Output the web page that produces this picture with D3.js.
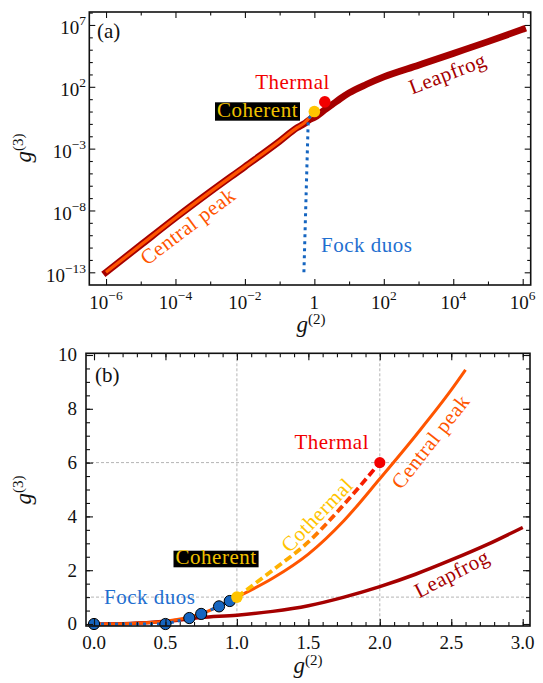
<!DOCTYPE html>
<html>
<head>
<meta charset="utf-8">
<script src="https://cdn.jsdelivr.net/npm/d3@7"></script>
<style>
  html, body { margin: 0; padding: 0; background: #fff; }
  #chart, #chart text, #chart tspan { font-family: "Liberation Serif", "DejaVu Serif", serif !important; }
</style>
</head>
<body>
<svg id="chart" width="543" height="683"></svg>
<script>
// ---- panel (a): log-log view ----
const leapLogG2 = [1e-6, 1e-5, 1e-4, 1e-3, 1e-2, 1e-1, 0.32, 0.5, 0.76, 1, 2, 3.2, 5.6, 10, 32, 100, 1e3, 1e4, 1e5, 1e6]
const leapLogG3 = [1e-13, 1.6e-11, 2.5e-9, 3.2e-7, 3.5e-5, 4e-3, 0.05, 0.1, 0.24, 0.33, 1.39, 3.5, 11, 32, 160, 630, 5.6e3, 5e4, 4.5e5, 4.5e6]
const centralLogG2 = [1e-6, 1e-5, 1e-4, 1e-3, 1e-2, 1e-1, 0.32, 0.5, 0.76, 1]
const centralLogG3 = [1e-13, 1.6e-11, 2.5e-9, 3.2e-7, 3.5e-5, 4e-3, 0.05, 0.11, 0.38, 1]
const fockFloor = 1e-13   // where zero g3 is drawn on the log axis

const aXTicks = [1e-6, 1e-4, 1e-2, 1, 1e2, 1e4, 1e6]
const aXTickLabels = ['10^−6', '10^−4', '10^−2', '1', '10^2', '10^4', '10^6']
const aXMinor = [1e-5, 1e-3, 1e-1, 1e1, 1e3, 1e5]
const aYTicks = [1e7, 1e2, 1e-3, 1e-8, 1e-13]
const aYTickLabels = ['10^7', '10^2', '10^−3', '10^−8', '10^−13']
const aYMinor = [1e8, 1e6, 1e5, 1e4, 1e3, 1e1, 1, 1e-1, 1e-2, 1e-4, 1e-5, 1e-6, 1e-7, 1e-9, 1e-10, 1e-11, 1e-12]

// ---- panel (b): linear view ----
const centralG2 = [0, 0.25, 0.5, 0.75, 1, 1.25, 1.5, 1.75, 2, 2.25, 2.5, 2.6]
const centralG3 = [0, 0.02, 0.1, 0.38, 1, 1.7, 2.6, 3.85, 5.4, 7.0, 8.7, 9.45]
const leapG2 = [0, 0.25, 0.5, 0.75, 1, 1.25, 1.5, 1.75, 2, 2.25, 2.5, 2.75, 3]
const leapG3 = [0, 0.02, 0.1, 0.24, 0.33, 0.47, 0.68, 1.0, 1.39, 1.85, 2.38, 2.95, 3.59]
const cothermG2 = [1, 1.25, 1.5, 1.75, 2]
const cothermG3 = [1, 2.0, 3.05, 4.45, 6]
const fockG2 = [0, 0.5, 0.667, 0.75, 0.875, 0.95]
const fockG3 = [0, 0, 0.222, 0.375, 0.656, 0.855]
const coherentPt = [1, 1]
const thermalPt = [2, 6]

const bXTicks = [0, 0.5, 1, 1.5, 2, 2.5, 3]
const bXTickLabels = ['0.0', '0.5', '1.0', '1.5', '2.0', '2.5', '3.0']
const bXMinor = d3.range(0, 3.01, 0.1)
const bYTicks = [0, 2, 4, 6, 8, 10]
const bYTickLabels = ['0', '2', '4', '6', '8', '10']
const bYMinor = d3.range(0, 10.01, 0.5)
const bGridX = [1, 2]
const bGridY = [1, 6]

const C = {
    leap: '#a50000',
    central: '#ff5500',
    thermal: '#f20000',
    coherent: '#ffc400',
    cohText: '#f0c000',
    blue: '#1565c0',
    blueText: '#1f6fd0',
    grid: '#b4b4b4',
    ink: '#111'
}

const svg = d3.select('#chart')
svg.append('rect').attr('width', 543).attr('height', 683).attr('fill', '#fff')

const boxA = { left: 89.3, right: 530.7, top: 12, bottom: 285 }
const boxB = { left: 86, right: 530, top: 353.3, bottom: 626 }

const xA = d3.scaleLog().domain([3.3e-7, 1.7e6]).range([boxA.left, boxA.right])
const yA = d3.scaleLog().domain([9.4e-15, 1.12e8]).range([boxA.bottom, boxA.top])
const xB = d3.scaleLinear().domain([-0.056, 3.051]).range([boxB.left, boxB.right])
const yB = d3.scaleLinear().domain([-0.074, 10.063]).range([boxB.bottom, boxB.top])

function ticksAllSides(g, x, y, box, t) {
    const sides = [
        [d3.axisBottom(x), 0, box.bottom, t.xMajor, t.major],
        [d3.axisBottom(x), 0, box.bottom, t.xMinor, t.minor],
        [d3.axisTop(x), 0, box.top, t.xMajor, t.major],
        [d3.axisTop(x), 0, box.top, t.xMinor, t.minor],
        [d3.axisLeft(y), box.left, 0, t.yMajor, t.major],
        [d3.axisLeft(y), box.left, 0, t.yMinor, t.minor],
        [d3.axisRight(y), box.right, 0, t.yMajor, t.major],
        [d3.axisRight(y), box.right, 0, t.yMinor, t.minor]
    ]
    sides.forEach(([ax, tx, ty, vals, len]) => {
        g.append('g')
            .attr('transform', `translate(${tx},${ty})`)
            .call(ax.tickValues(vals).tickSize(-len).tickFormat(() => ''))
            .call(s => s.select('.domain').remove())
            .selectAll('line')
            .attr('stroke', C.ink)
            .attr('stroke-width', 1.1)
    })
    g.append('rect')
        .attr('x', box.left).attr('y', box.top)
        .attr('width', box.right - box.left).attr('height', box.bottom - box.top)
        .attr('fill', 'none').attr('stroke', C.ink).attr('stroke-width', 1.6)
}

function powText(sel, label, size, supSize, rise) {
    const parts = label.split('^')
    sel.attr('font-size', size).attr('fill', C.ink)
    sel.append('tspan').text(parts[0])
    if (parts[1]) sel.append('tspan').attr('dy', -rise).attr('font-size', supSize).text(parts[1])
}

function axisLabel(g, x, y, rot, sup) {
    const t = g.append('text')
        .attr('transform', `translate(${x},${y}) rotate(${rot})`)
        .attr('text-anchor', 'middle')
        .attr('fill', C.ink)
    t.append('tspan').attr('font-style', 'italic').attr('font-size', 23).text('g')
    t.append('tspan').attr('font-size', 15).attr('dy', -8).text(sup)
}

function note(g, text, x, y, color, rot, anchor) {
    return g.append('text')
        .attr('transform', `translate(${x},${y}) rotate(${rot || 0})`)
        .attr('text-anchor', anchor || 'middle')
        .attr('font-size', 21)
        .attr('letter-spacing', 0.5)
        .attr('fill', color)
        .text(text)
}

function boxedNote(g, text, x0, x1, y0, y1) {
    g.append('rect').attr('x', x0).attr('y', y0).attr('width', x1 - x0).attr('height', y1 - y0).attr('fill', '#000')
    note(g, text, (x0 + x1) / 2, y1 - 3.5, C.cohText)
}

// ================= panel (a) =================
const gA = svg.append('g')

const lineA = d3.line().x(d => xA(d[0])).y(d => yA(d[1])).curve(d3.curveMonotoneX)

gA.append('path')
    .attr('d', lineA(d3.zip(leapLogG2, leapLogG3)))
    .attr('fill', 'none').attr('stroke', C.leap)
    .attr('stroke-width', 6.8).attr('stroke-linecap', 'square')

gA.append('path')
    .attr('d', lineA(d3.zip(centralLogG2, centralLogG3)))
    .attr('fill', 'none').attr('stroke', C.central)
    .attr('stroke-width', 3.2).attr('stroke-linecap', 'butt')

// fock duos: only g2 > 0 can sit on the log axis, zero g3 drawn at the floor
const fockA = d3.zip(fockG2, fockG3)
    .filter(d => d[0] > 0)
    .map(d => [d[0], d[1] > 0 ? d[1] : fockFloor])
gA.append('path')
    .attr('d', d3.line().x(d => xA(d[0])).y(d => yA(d[1]))(fockA))
    .attr('fill', 'none').attr('stroke', C.blue)
    .attr('stroke-width', 3).attr('stroke-dasharray', '3,4')

gA.append('circle').attr('cx', xA(coherentPt[0])).attr('cy', yA(coherentPt[1])).attr('r', 5.8).attr('fill', C.coherent)
gA.append('circle').attr('cx', xA(thermalPt[0])).attr('cy', yA(thermalPt[1])).attr('r', 5.8).attr('fill', C.thermal)

ticksAllSides(gA, xA, yA, boxA, { xMajor: aXTicks, xMinor: aXMinor, yMajor: aYTicks, yMinor: aYMinor, major: 6, minor: 3.5 })

aXTicks.forEach((v, i) => {
    gA.append('text').attr('x', xA(v)).attr('y', 308.5).attr('text-anchor', 'middle')
        .call(s => powText(s, aXTickLabels[i], 19, 13.5, 9))
})
aYTicks.forEach((v, i) => {
    gA.append('text').attr('x', 86).attr('y', yA(v) + 9.5).attr('text-anchor', 'end')
        .call(s => powText(s, aYTickLabels[i], 19, 13.5, 9))
})

axisLabel(gA, 311, 332, 0, '(2)')
axisLabel(gA, 31, 148, -90, '(3)')

gA.append('text').attr('x', 97).attr('y', 38).attr('font-size', 21).attr('fill', C.ink).text('(a)')
note(gA, 'Thermal', 292.5, 89, C.thermal)
boxedNote(gA, 'Coherent', 215, 300, 102.3, 120.7)
note(gA, 'Leapfrog', 450, 80, C.leap, -21)
note(gA, 'Central peak', 192, 232, C.central, -37)
note(gA, 'Fock duos', 321, 252, C.blueText, 0, 'start')

// ================= panel (b) =================
const gB = svg.append('g')

bGridX.forEach(v => {
    gB.append('line').attr('x1', xB(v)).attr('x2', xB(v)).attr('y1', boxB.top).attr('y2', boxB.bottom)
        .attr('stroke', C.grid).attr('stroke-width', 1).attr('stroke-dasharray', '3,2')
})
bGridY.forEach(v => {
    gB.append('line').attr('x1', boxB.left).attr('x2', boxB.right).attr('y1', yB(v)).attr('y2', yB(v))
        .attr('stroke', C.grid).attr('stroke-width', 1).attr('stroke-dasharray', '3,2')
})

const lineB = d3.line().x(d => xB(d[0])).y(d => yB(d[1])).curve(d3.curveMonotoneX)

gB.append('path')
    .attr('d', lineB(d3.zip(leapG2, leapG3)))
    .attr('fill', 'none').attr('stroke', C.leap).attr('stroke-width', 3.5)

gB.append('path')
    .attr('d', lineB(d3.zip(centralG2, centralG3)))
    .attr('fill', 'none').attr('stroke', C.central).attr('stroke-width', 3)

// cothermal: dashed, shading from coherent gold to thermal red
const grad = svg.append('defs').append('linearGradient')
    .attr('id', 'cotherm').attr('gradientUnits', 'userSpaceOnUse')
    .attr('x1', xB(coherentPt[0])).attr('y1', yB(coherentPt[1]))
    .attr('x2', xB(thermalPt[0])).attr('y2', yB(thermalPt[1]))
grad.selectAll('stop')
    .data([[0, '#ffc400'], [0.4, '#ffa600'], [0.6, '#ff5a00'], [1, '#f20000']])
    .enter().append('stop')
    .attr('offset', d => d[0]).attr('stop-color', d => d[1])

gB.append('path')
    .attr('d', lineB(d3.zip(cothermG2, cothermG3)))
    .attr('fill', 'none').attr('stroke', 'url(#cotherm)')
    .attr('stroke-width', 3.8).attr('stroke-dasharray', '8,4')

gB.append('path')
    .attr('d', d3.line().x(d => xB(d[0])).y(d => yB(d[1]))(d3.zip(fockG2, fockG3)))
    .attr('fill', 'none').attr('stroke', C.blue)
    .attr('stroke-width', 3).attr('stroke-dasharray', '3,4')

gB.selectAll('.fock')
    .data(d3.zip(fockG2, fockG3))
    .enter()
    .append('circle')
    .attr('cx', d => xB(d[0]))
    .attr('cy', d => yB(d[1]))
    .attr('r', 5.6)
    .attr('fill', C.blue)
    .attr('stroke', '#000')
    .attr('stroke-width', 1)

gB.append('circle').attr('cx', xB(coherentPt[0])).attr('cy', yB(coherentPt[1])).attr('r', 5.8).attr('fill', C.coherent)
gB.append('circle').attr('cx', xB(thermalPt[0])).attr('cy', yB(thermalPt[1])).attr('r', 5.6).attr('fill', C.thermal)

ticksAllSides(gB, xB, yB, boxB, { xMajor: bXTicks, xMinor: bXMinor, yMajor: bYTicks, yMinor: bYMinor, major: 7, minor: 4 })

bXTicks.forEach((v, i) => {
    gB.append('text').attr('x', xB(v)).attr('y', 649).attr('text-anchor', 'middle')
        .attr('font-size', 19).attr('fill', C.ink).text(bXTickLabels[i])
})
bYTicks.forEach((v, i) => {
    gB.append('text').attr('x', 77).attr('y', yB(v) + 6.3).attr('text-anchor', 'end')
        .attr('font-size', 19).attr('fill', C.ink).text(bYTickLabels[i])
})

axisLabel(gB, 308, 673, 0, '(2)')
axisLabel(gB, 31, 490, -90, '(3)')

gB.append('text').attr('x', 95).attr('y', 382).attr('font-size', 21).attr('fill', C.ink).text('(b)')
note(gB, 'Thermal', 331.7, 449, C.thermal)
boxedNote(gB, 'Coherent', 173.5, 258.6, 550.7, 567.3)
note(gB, 'Fock duos', 104, 603.5, C.blueText, 0, 'start')
note(gB, 'Cothermal', 322, 520, C.coherent, -46)
note(gB, 'Central peak', 436, 446, C.central, -52)
note(gB, 'Leapfrog', 455, 580, C.leap, -27)
</script>
</body>
</html>
